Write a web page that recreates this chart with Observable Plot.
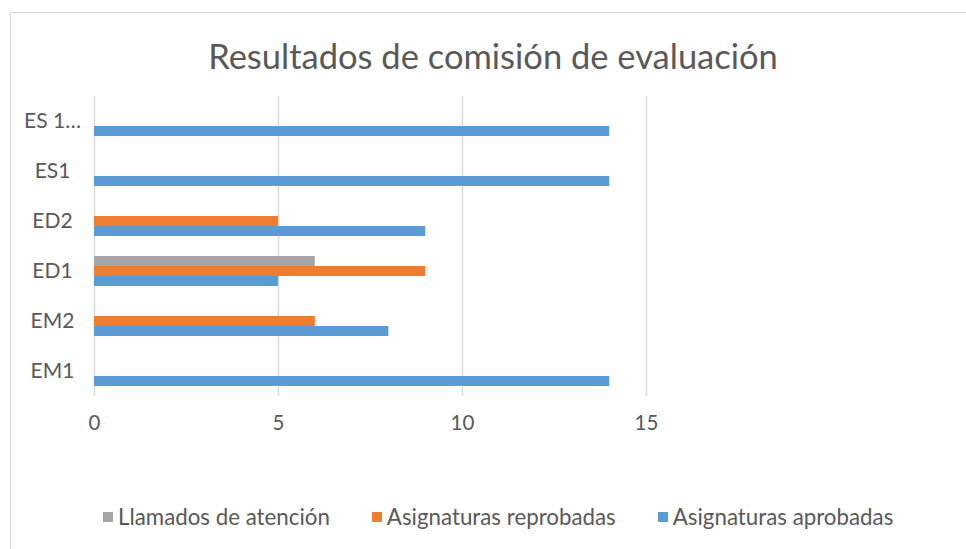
<!DOCTYPE html>
<html>
<head>
<meta charset="utf-8">
<script src="https://cdn.jsdelivr.net/npm/d3@7"></script>
<script src="https://cdn.jsdelivr.net/npm/@observablehq/plot@0.6"></script>
<style>
  html, body { margin: 0; padding: 0; background: #fff; overflow: hidden; width: 966px; height: 549px; }
  body { position: relative; font-family: Lato, "Open Sans", sans-serif; color: #595959; }
  #frame { position: absolute; left: 10px; top: 12px; width: 2000px; height: 2000px; border: 1px solid #d9d9d9; box-sizing: border-box; }
  #title { position: absolute; left: 0; top: 39px; width: 986px; text-align: center; font-size: 34.5px; line-height: 1; color: #595959; }
  #chart { position: absolute; left: 0; top: 0; }
  #legend { position: absolute; left: 103px; top: 504px; display: flex; gap: 42px; font-size: 22.3px; line-height: 26px; color: #595959; }
  .item { display: flex; align-items: center; }
  .sw { width: 10px; height: 10px; margin-right: 5px; }
</style>
</head>
<body>
<div id="frame"></div>
<div id="chart"></div>
<div id="title">Resultados de comisión de evaluación</div>
<div id="legend"></div>
<script>
const categories = ["EM1", "EM2", "ED1", "ED2", "ES1", "ES 1…"];
const seriesNames = ["Llamados de atención", "Asignaturas reprobadas", "Asignaturas aprobadas"];
const seriesColors = ["#a5a5a5", "#ed7d31", "#5b9bd5"];
const aprobadas = [14, 8, 5, 9, 14, 14];
const reprobadas = [null, 6, 9, 5, null, null];
const llamados = [null, null, 6, null, null, null];
const xTicks = [0, 5, 10, 15];

const valuesBySeries = {
  "Llamados de atención": llamados,
  "Asignaturas reprobadas": reprobadas,
  "Asignaturas aprobadas": aprobadas
};
const rows = [];
categories.forEach((c, i) => {
  seriesNames.forEach(s => {
    const v = valuesBySeries[s][i];
    if (v != null) rows.push({cat: c, series: s, value: v});
  });
});

const W = 966, H = 450;
const chart = Plot.plot({
  width: W,
  height: H,
  marginLeft: 94,
  marginRight: 320,
  marginTop: 95,
  marginBottom: 53,
  style: {fontFamily: "Lato, 'Open Sans', sans-serif", color: "#595959", background: "transparent"},
  x: {domain: [0, 15], ticks: xTicks, label: null},
  y: {domain: seriesNames, paddingInner: 0, paddingOuter: 1, axis: null},
  fy: {domain: categories.slice().reverse(), padding: 0, label: null},
  color: {domain: seriesNames, range: seriesColors},
  marks: [
    Plot.gridX(xTicks, {stroke: "#d9d9d9", strokeOpacity: 1, strokeWidth: 1.5}),
    Plot.barX(rows, {x: "value", y: "series", fy: "cat", fill: "series"}),
    Plot.axisX(xTicks, {anchor: "bottom", tickSize: 0, tickPadding: 19, fontSize: 20.5, fill: "#595959", label: null}),
    Plot.axisFy({anchor: "left", tickSize: 0, tickPadding: 42, textAnchor: "middle", fontSize: 21, fill: "#595959", label: null})
  ]
});
document.getElementById("chart").appendChild(chart);

const legend = document.getElementById("legend");
seriesNames.forEach((s, i) => {
  const it = document.createElement("div");
  it.className = "item";
  const sw = document.createElement("span");
  sw.className = "sw";
  sw.style.background = seriesColors[i];
  const t = document.createElement("span");
  t.textContent = s;
  it.appendChild(sw); it.appendChild(t);
  legend.appendChild(it);
});
</script>
</body>
</html>
